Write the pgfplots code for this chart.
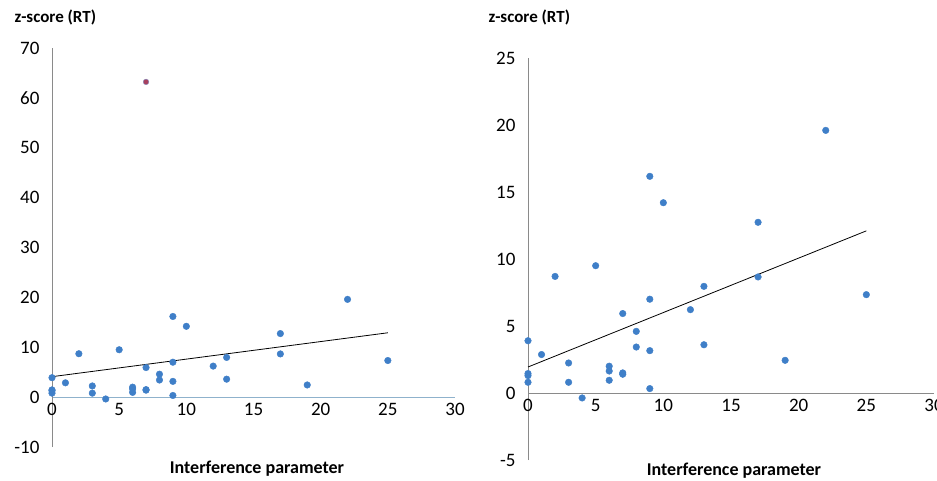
\documentclass[border=0pt]{standalone}
\usepackage{pgfplots}
\pgfplotsset{compat=1.18}
\usepackage{fontspec}
\setmainfont{Carlito}
\definecolor{dotblue}{HTML}{3F7FC8}
\definecolor{axgray}{HTML}{8A8A8A}
\definecolor{axblue}{HTML}{8FB2CC}
\definecolor{outfill}{HTML}{A8405E}
\definecolor{outdraw}{HTML}{7F86B8}
\pgfplotstableread{
x y
0 3.9
0 1.45
0 1.3
0 0.8
1 2.87
2 8.7
3 2.24
3 0.8
4 -0.37
5 9.5
6 2.0
6 1.64
6 0.95
7 5.93
7 1.5
7 1.4
8 4.6
8 3.43
9 16.17
9 7.0
9 3.16
9 0.33
10 14.2
12 6.22
13 7.96
13 3.6
17 12.74
17 8.66
19 2.44
22 19.6
25 7.34
}\pts
\pgfplotsset{
  myax/.style={
    scale only axis,
    axis lines=middle,
    axis line style={-, axgray, line width=0.8pt},
    xmin=0, xmax=30,
    xtick={0,5,...,30},
    tick style={draw=none},
    major tick length=0pt,
    hide obscured x ticks=false,
    hide obscured y ticks=false,
    clip=false,
    ticklabel style={font=\fontsize{19}{22}\selectfont, text=black},
    xticklabel style={yshift=-3pt},
    yticklabel style={xshift=-9pt},
    /pgf/number format/assume math mode=true,
  }
}
\begin{document}
\begin{tikzpicture}[x=1pt,y=1pt]
\useasboundingbox[fill=white] (0,0) rectangle (937,480);
% left
\begin{axis}[myax, at={(52pt,33pt)}, anchor=south west,
  width=403pt, height=399pt, ymin=-10, ymax=70, ytick={-10,0,...,70},
  x axis line style={axblue}]
\addplot[only marks, mark=*, mark size=3.3pt, mark options={draw=dotblue, fill=dotblue}] table[x=x,y=y] {\pts};
\addplot[only marks, mark=*, mark size=2.8pt, mark options={draw=outdraw, fill=outfill}] coordinates {(7,63.2)};
\addplot[black, line width=0.8pt] coordinates {(0,4.1) (25,12.9)};
\end{axis}
\node[anchor=west, font=\bfseries\fontsize{17}{20}\selectfont] at (11,463) {z-score (RT)};
\node[font=\bfseries\fontsize{18}{21}\selectfont] at (257,11) {Interference parameter};
% right
\begin{axis}[myax, at={(528pt,20pt)}, anchor=south west,
  width=406pt, height=402pt, ymin=-5, ymax=25, ytick={-5,0,...,25}]
\addplot[only marks, mark=*, mark size=3.3pt, mark options={draw=dotblue, fill=dotblue}] table[x=x,y=y] {\pts};
\addplot[black, line width=0.8pt] coordinates {(0,1.94) (25,12.1)};
\end{axis}
\node[anchor=west, font=\bfseries\fontsize{17}{20}\selectfont] at (485,463) {z-score (RT)};
\node[font=\bfseries\fontsize{18}{21}\selectfont] at (734,9) {Interference parameter};
\end{tikzpicture}
\end{document}
